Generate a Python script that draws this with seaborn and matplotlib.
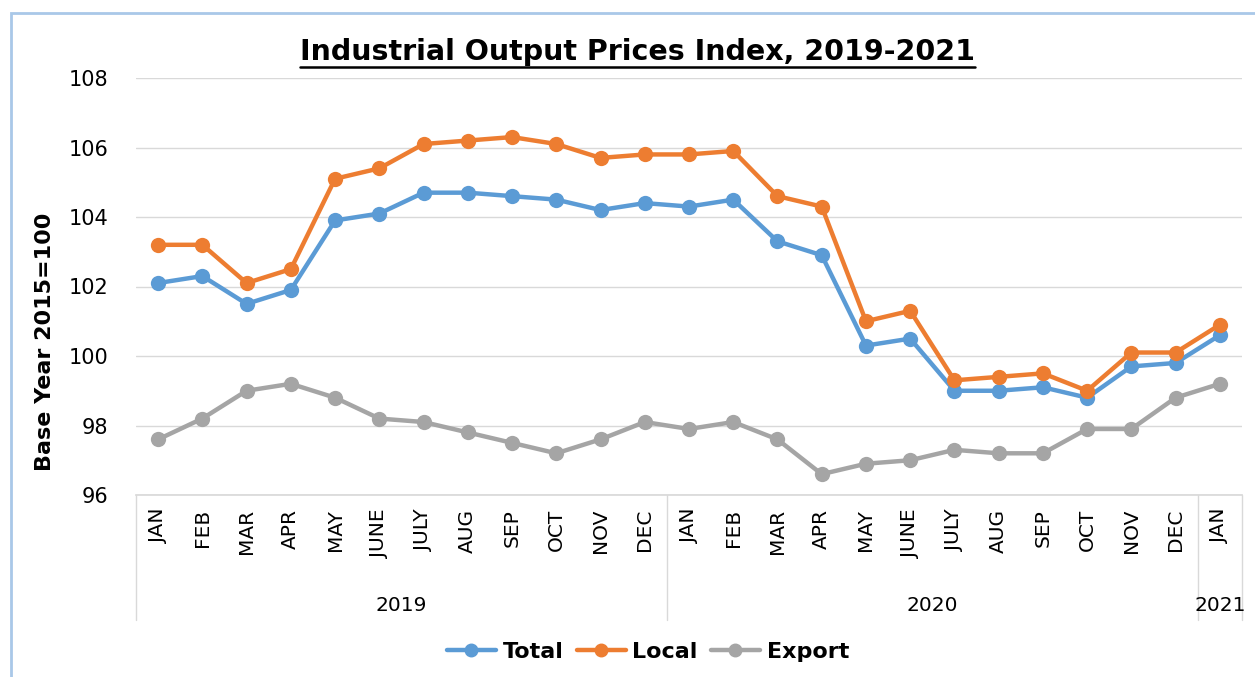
import numpy as np
import pandas as pd
import matplotlib
matplotlib.use("Agg")
import matplotlib.pyplot as plt
import matplotlib.transforms as mtransforms
from matplotlib.patches import Rectangle
from matplotlib.lines import Line2D
import seaborn as sns

# data
months = ["JAN", "FEB", "MAR", "APR", "MAY", "JUNE", "JULY", "AUG", "SEP", "OCT", "NOV", "DEC",
          "JAN", "FEB", "MAR", "APR", "MAY", "JUNE", "JULY", "AUG", "SEP", "OCT", "NOV", "DEC",
          "JAN"]
years = ["2019"] * 12 + ["2020"] * 12 + ["2021"]

total = [102.1, 102.3, 101.5, 101.9, 103.9, 104.1, 104.7, 104.7, 104.6, 104.5, 104.2, 104.4,
         104.3, 104.5, 103.3, 102.9, 100.3, 100.5, 99.0, 99.0, 99.1, 98.8, 99.7, 99.8,
         100.6]
local = [103.2, 103.2, 102.1, 102.5, 105.1, 105.4, 106.1, 106.2, 106.3, 106.1, 105.7, 105.8,
         105.8, 105.9, 104.6, 104.3, 101.0, 101.3, 99.3, 99.4, 99.5, 99.0, 100.1, 100.1,
         100.9]
export = [97.6, 98.2, 99.0, 99.2, 98.8, 98.2, 98.1, 97.8, 97.5, 97.2, 97.6, 98.1,
          97.9, 98.1, 97.6, 96.6, 96.9, 97.0, 97.3, 97.2, 97.2, 97.9, 97.9, 98.8,
          99.2]

series_names = ["Total", "Local", "Export"]
colors = {"Total": "#5B9BD5", "Local": "#ED7D31", "Export": "#A5A5A5"}

pos = np.arange(len(months))
df = pd.concat([
    pd.DataFrame({"pos": pos, "value": vals, "Series": name})
    for name, vals in zip(series_names, [total, local, export])
])

sns.set_theme(style="white")
plt.rcParams["font.family"] = ["DejaVu Sans"]

fig = plt.figure(figsize=(12.55, 6.77), dpi=100)
ax = fig.add_axes([136 / 1255, 1 - 495 / 677, (1242 - 136) / 1255, (495 - 78) / 677])

sns.lineplot(data=df, x="pos", y="value", hue="Series", palette=colors,
             marker="o", markersize=11, markeredgewidth=0, linewidth=3.2,
             ax=ax, legend=False)

ax.set_xlim(-0.5, len(months) - 0.5)
ax.set_ylim(96, 108)
ax.set_yticks(np.arange(96, 109, 2))
ax.yaxis.grid(True, color="#d9d9d9", linewidth=1)
ax.set_axisbelow(True)
for s in ["top", "right", "left"]:
    ax.spines[s].set_visible(False)
ax.spines["bottom"].set_color("#d9d9d9")

ax.set_xticks(pos)
ax.set_xticklabels(months, rotation=90, fontsize=14.5, color="black")
ax.tick_params(axis="x", length=0, pad=10)
ax.tick_params(axis="y", length=0, labelsize=15, labelcolor="black", pad=20)
ax.set_xlabel("")
ax.set_ylabel("Base Year 2015=100", fontsize=16, fontweight="bold", color="black")
ax.yaxis.set_label_coords((55 - 136) / 1106, (495 - 342) / 417)

# year groups under the month labels
trans = mtransforms.blended_transform_factory(ax.transData, ax.transAxes)
uniq = list(dict.fromkeys(years))
edges = [-0.5]
for y in uniq:
    idx = [i for i, v in enumerate(years) if v == y]
    edges.append(idx[-1] + 0.5)
    ax.text((idx[0] + idx[-1]) / 2 if len(idx) > 1 else idx[0], -0.265, y,
            transform=trans, ha="center", va="center", fontsize=14.5, color="black")
for e in edges:
    ax.plot([e, e], [0, -0.30], transform=trans, color="#d9d9d9", lw=1, clip_on=False)

# title with underline
title = fig.text(638 / 1255, 1 - 52 / 677, "Industrial Output Prices Index, 2019-2021",
                 ha="center", va="center", fontsize=20.5, fontweight="bold", color="black")

# legend
handles = [Line2D([0], [0], color=colors[n], lw=3.2, marker="o", markersize=9) for n in series_names]
leg = fig.legend(handles, series_names, loc="center", bbox_to_anchor=(648 / 1255, 1 - 652 / 677),
                 ncol=3, frameon=False, prop={"weight": "bold", "size": 16},
                 handlelength=2.2, columnspacing=0.6, handletextpad=0.3)
for t in leg.get_texts():
    t.set_color("black")

# outer chart border
fig.patches.append(Rectangle((11 / 1255, -0.05), 1.1, 1 - 13 / 677 + 0.05,
                             transform=fig.transFigure, fill=False,
                             edgecolor="#A9C8E8", linewidth=2))

fig.canvas.draw()
bb = title.get_window_extent()
ul_y = (bb.y0 - 1) / fig.bbox.height
fig.add_artist(Line2D([bb.x0 / fig.bbox.width, bb.x1 / fig.bbox.width], [ul_y, ul_y],
                      transform=fig.transFigure, color="black", lw=1.8))

fig.savefig("out.png", dpi=100)
